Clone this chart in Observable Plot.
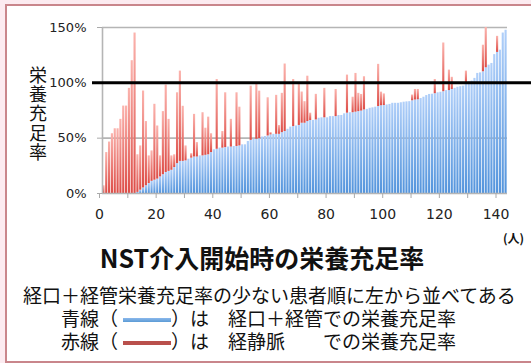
<!DOCTYPE html>
<html><head><meta charset="utf-8">
<script src="https://cdn.jsdelivr.net/npm/d3@7"></script>
<script src="https://cdn.jsdelivr.net/npm/@observablehq/plot@0.6"></script>
<style>
html,body{margin:0;padding:0;}
body{width:531px;height:363px;position:relative;overflow:hidden;background:#fcebf0;font-family:"Noto Sans CJK JP","Noto Sans",sans-serif;color:#111;}
#frame{position:absolute;left:5px;top:4px;width:600px;height:355px;border:2px solid #c9868b;background:#fff;}
#chart{position:absolute;left:0;top:0;}
.t{position:absolute;white-space:nowrap;}
#ylab{left:25px;top:66px;font-size:18px;writing-mode:vertical-rl;letter-spacing:1.3px;}
#title{left:0;width:524px;top:242px;text-align:center;font-size:25px;font-weight:bold;line-height:30px;}
#unit{left:503px;top:229px;font-size:12px;font-weight:bold;}
.cap{font-size:19px;line-height:21px;height:21px;}
#c1{left:23px;top:284px;}
#c2{left:61px;top:307px;}
#c3{left:61px;top:330px;}
.seg{display:inline-block;width:48px;height:4px;vertical-align:middle;margin-left:5px;position:relative;top:-1px;}
</style></head>
<body>
<div id="frame"></div>
<div id="chart"></div>
<div class="t" id="ylab">栄養充足率</div>
<div class="t" id="unit">(人)</div>
<div class="t" id="title">NST介入開始時の栄養充足率</div>
<div class="t cap" id="c1">経口＋経管栄養充足率の少ない患者順に左から並べてある</div>
<div class="t cap" id="c2">青線（<span class="seg" style="background:linear-gradient(#8bb8ec,#5b9bd5)"></span>）は　経口＋経管での栄養充足率</div>
<div class="t cap" id="c3">赤線（<span class="seg" style="background:#b9504c"></span>）は　経静脈　　での栄養充足率</div>
<script>
// 経口＋経管 (enteral) nutrition sufficiency, % — patients sorted ascending
const enteral = [
  0,0,0,0,0,0,0,0,0,0,0,0,
  1,3,5,7,9,11,12,13,15,17,19,20,21,23.5,27,29,29,29.5,
  31,32,33,33,34,34,34.5,35,37,39.5,40,41,41,41.5,42,42,42.5,42.5,43,44,
  44,47,48,49,49,49.5,51,51.5,52,53,53.5,53.5,53.5,55,56,58,60,60.5,61,61.5,
  63.5,63.5,65,66,66,66.5,68,68.4,68.4,68.4,69.5,69.5,69.5,70.5,70.5,72,72.6,73,73,73.5,
  74,74.5,75.5,76,77,77.4,78,78.6,79.3,79.5,80,80.5,81.5,81.5,81.5,82,82.5,82.8,83,83.8,
  84.5,84.7,85.8,87,88.5,89.5,89.7,90.2,91,91.5,92,93,93,94,95,96,96.5,97,98.5,101,
  101.6,104,108.5,109,110,113.6,116,117.5,125.5,127.5,129.5,145,147.5
];
// total (経口＋経管＋経静脈) sufficiency, %; null = no 経静脈
const total = [
  7,37,46.5,54,58.5,58.5,67,79,79,95,120,145,35,43,92.6,65,34,38.5,80.6,61,
  34,74,98,67,34,35,91,110.6,78.8,43,null,36,71.5,46,null,73,59,69,54,null,
  103,null,56,91,null,67,null,91,78,null,null,null,97,null,99,92.5,null,null,86.5,55,
  null,88.7,61.4,90.5,117,null,null,103,null,99,91.7,83,106,72.6,null,89.6,null,null,95,null,
  null,null,94,null,null,null,107,null,87,108.5,90.5,89.5,105.5,null,null,null,null,116.7,91.6,90,
  null,null,null,null,null,null,null,null,null,89,94,94,null,null,null,null,null,103,null,null,
  136,null,111.5,105,null,null,null,null,110.6,null,null,null,null,null,134,150,null,null,null,142,
  null,null,null
];
const yTicks = [0, 50, 100, 150];
const yTickLabels = ["0%", "50%", "100%", "150%"];
const xTicks = [0,10,20,30,40,50,60,70,80,90,100,110,120,130,140];
const xLabelEvery = 20;

const rows = enteral.map((e, i) => ({i, e, t: total[i]}));
const ivRows = rows.filter(d => d.t != null);
const numFont = '"DejaVu Sans",sans-serif';

const chart = Plot.plot({
  width: 531, height: 230,
  marginLeft: 102, marginRight: 24, marginTop: 27, marginBottom: 37,
  style: {background: "transparent", fontFamily: numFont, color: "#222"},
  x: {domain: [0, enteral.length], axis: null},
  y: {domain: [0, 150], axis: null},
  marks: [
    Plot.ruleY([50, 150], {stroke: "#b5b5b5", strokeWidth: 1.6}),
    Plot.rect(rows, {x1: "i", x2: d => d.i + 1, y1: () => 0, y2: "e", fill: "url(#gBlue)", insetLeft: 0.35, insetRight: 0.35}),
    Plot.rect(ivRows, {x1: "i", x2: d => d.i + 1, y1: "e", y2: "t", fill: "url(#gRed)", insetLeft: 0.35, insetRight: 0.35}),
    Plot.ruleX([0], {stroke: "#b5b5b5", strokeWidth: 1.6}),
    Plot.ruleY([0], {stroke: "#b5b5b5", strokeWidth: 1.6}),
    Plot.axisY({ticks: yTicks, tickFormat: d => yTickLabels[yTicks.indexOf(d)], label: null, tickSize: 5, tickPadding: 11, fontSize: 13, stroke: "#aaa", fill: "#222"}),
    Plot.axisX({ticks: xTicks, tickFormat: d => d % xLabelEvery === 0 ? String(d) : "", label: null, tickSize: 5, tickPadding: 11, fontSize: 14, stroke: "#aaa", fill: "#222", dx: -3}),
    Plot.ruleY([100], {stroke: "#000", strokeWidth: 3, insetLeft: -10, insetRight: -30})
  ]
});
chart.setAttribute("overflow", "visible");
const defs = d3.select(chart).insert("defs", ":first-child");
const gb = defs.append("linearGradient").attr("id", "gBlue").attr("x1", 0).attr("y1", 0).attr("x2", 0).attr("y2", 1);
gb.append("stop").attr("offset", "0%").attr("stop-color", "#b0cff9");
gb.append("stop").attr("offset", "100%").attr("stop-color", "#5394dc");
const gr = defs.append("linearGradient").attr("id", "gRed").attr("x1", 0).attr("y1", 0).attr("x2", 0).attr("y2", 1);
gr.append("stop").attr("offset", "0%").attr("stop-color", "#fbb3ad");
gr.append("stop").attr("offset", "100%").attr("stop-color", "#dd4d47");
document.getElementById("chart").appendChild(chart);
</script>
</body></html>
